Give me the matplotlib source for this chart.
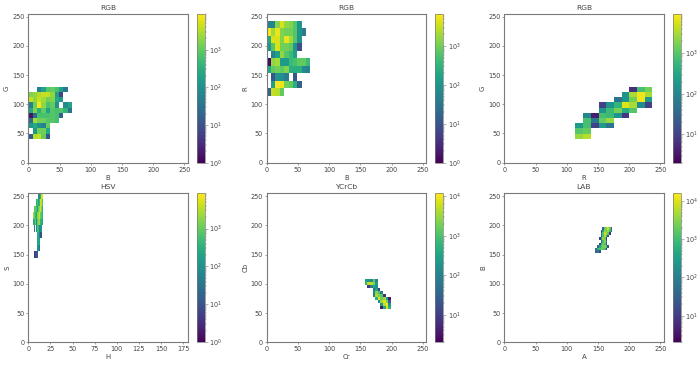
import numpy as np
import matplotlib
matplotlib.use('Agg')
import matplotlib.pyplot as plt
from matplotlib.colors import LogNorm

_ = np.nan

# log10 of the bin counts, 10x10 bins, rows from top to bottom
bg_counts = [
    [_, _, 1.7, 2.3, 2.9, 3.0, 2.8, 2.2, 1.6, _],
    [3.2, 3.3, 3.5, 3.6, 3.6, 3.3, 2.2, 0.8, _, _],
    [3.6, 3.3, 3.6, 3.4, 3.1, 3.2, 2.4, 2.1, _, _],
    [1.7, 3.1, 3.9, 3.3, 2.8, 3.0, 2.0, _, 1.9, 2.3],
    [2.4, 3.2, 2.5, 3.0, 2.3, 2.9, 2.8, 2.9, 2.6, 1.5],
    [0.2, 1.4, 2.8, 2.8, 2.8, 2.9, 2.8, 1.2, _, _],
    [1.4, 3.4, 3.1, 3.1, 2.9, 2.9, 2.8, _, _, _],
    [2.1, 2.4, 2.0, 1.7, 3.0, _, _, _, _, _],
    [_, 2.1, 3.1, 3.1, 2.4, _, _, _, _, _],
    [1.1, 3.5, 3.6, 3.0, 1.0, _, _, _, _, _],
]
br_counts = [
    [1.7, 1.7, 3.1, 3.6, 3.2, 3.1, 2.8, 2.0, _, _],
    [3.8, 3.3, 3.7, 3.1, 3.0, 3.0, 2.8, 2.0, 1.6, _],
    [2.3, 3.6, 3.6, 3.1, 3.7, 3.3, 2.8, 2.0, _, _],
    [2.0, 2.8, 3.6, 3.0, 3.0, 2.9, 2.0, 0.9, _, _],
    [_, 1.7, 2.2, 3.2, 2.8, 2.6, 2.2, _, _, _],
    [0.1, 3.2, 3.3, 2.1, 2.1, 2.6, 2.7, 2.9, 2.9, 2.6],
    [2.3, 2.9, 3.0, 2.9, 3.1, 2.4, 2.4, 2.4, 1.8, 1.7],
    [_, 1.0, 2.0, 1.9, 1.6, _, 1.0, _, _, _],
    [_, 2.2, 3.8, 3.7, 3.0, 2.9, 2.4, 1.2, _, _],
    [1.2, 3.5, 3.4, 2.9, _, _, _, _, _, _],
]
rg_counts = [
    [_, _, _, _, _, _, _, 0.8, 2.9, 3.2],
    [_, _, _, _, _, _, 2.2, 3.5, 3.9, 3.5],
    [_, _, _, _, _, 1.7, 2.2, 3.2, 3.9, 2.3],
    [_, _, _, 1.0, 2.2, 2.7, 3.8, 3.5, 2.1, 1.0],
    [_, _, _, 2.2, 2.8, 3.2, 2.6, 3.0, _, _],
    [_, 2.0, 0.6, 2.9, 2.8, 2.2, 0.9, _, _, _],
    [_, 2.9, 1.8, 3.1, 3.4, _, _, _, _, _],
    [2.3, 2.9, 1.0, 2.3, 1.7, _, _, _, _, _],
    [3.0, 3.1, _, _, _, _, _, _, _, _],
    [3.4, 3.6, _, _, _, _, _, _, _, _],
]
hs_counts = [
    [_, _, _, _, _, 1.7, 2.0, 2.4, 3.7, 3.7],
    [_, _, _, 2.5, 2.8, 2.3, 2.6, 3.6, 3.6, 2.9],
    [_, 2.9, 3.0, 2.7, 2.3, 3.0, 3.3, 3.7, 3.1, 2.6],
    [3.3, 3.0, 2.6, 2.4, 3.2, 3.3, 3.6, 3.0, 2.8, 2.6],
    [2.2, 2.5, 3.0, 1.8, 3.0, 3.2, 3.3, 2.6, 2.4, 2.4],
    [_, 1.7, _, 2.0, 2.8, 2.6, 1.8, 2.0, 2.0, _],
    [_, _, _, _, 2.4, 2.5, 1.6, 0.9, 1.0, _],
    [_, _, _, _, 2.3, 2.4, 2.2, _, _, _],
    [_, _, _, _, 2.1, 2.0, 1.4, _, _, _],
    [_, 0.6, 0.8, 1.1, 1.0, _, _, _, _, _],
]
crcb_counts = [
    [2.4, 2.3, 2.0, 3.2, 2.0, _, _, _, _, _],
    [2.8, 3.7, 3.7, 3.3, 2.4, _, _, _, _, _],
    [_, 0.9, 1.9, 2.6, 2.2, _, _, _, _, _],
    [_, _, _, 1.8, 2.5, 1.1, _, _, _, _],
    [_, _, _, 2.0, 3.4, 3.0, 1.8, _, _, _],
    [_, _, _, 1.9, 3.6, 3.3, 3.1, 0.8, _, _],
    [_, _, _, _, 2.7, 3.9, 3.2, 3.5, 2.4, 0.5],
    [_, _, _, _, _, 2.2, 3.5, 3.9, 3.3, 1.4],
    [_, _, _, _, _, _, 2.3, 3.7, 4.0, 2.2],
    [_, _, _, _, _, _, 0.6, 2.6, 3.9, 2.7],
]
ab_counts = [
    [_, _, _, _, 1.5, 3.3, 3.5, 3.9, 3.2, 1.5],
    [_, _, _, 1.0, 2.6, 3.6, 3.3, 3.7, 2.9, 1.8],
    [_, _, _, 1.5, 3.2, 3.8, 3.7, 3.2, 0.9, _],
    [_, _, _, 1.8, 3.0, 3.8, 3.0, 1.2, _, _],
    [_, _, 1.0, 2.3, 3.6, 3.3, 1.0, _, _, _],
    [_, _, _, 1.6, 3.0, 3.5, 1.5, _, _, _],
    [_, _, 1.0, 2.8, 3.3, 3.0, 1.5, _, _, _],
    [_, 1.6, 2.6, 3.2, 3.3, 3.4, 3.0, 1.3, _, _],
    [1.8, 2.9, 3.1, 3.3, 3.3, 3.0, 0.9, _, _, _],
    [1.6, 1.8, 1.2, _, _, _, _, _, _, _],
]

titles = ['RGB', 'RGB', 'RGB', 'HSV', 'YCrCb', 'LAB']
xlabels = ['B', 'B', 'R', 'H', 'Cr', 'A']
ylabels = ['G', 'R', 'G', 'S', 'Cb', 'B']
all_counts = [bg_counts, br_counts, rg_counts, hs_counts, crcb_counts, ab_counts]
x_ranges = [(0, 70), (0, 70), (114, 237), (5.7, 16.2), (157, 199), (146, 173)]
y_ranges = [(41, 130), (115, 243), (41, 130), (145, 256), (57, 108), (153, 197)]
count_limits = [(1, 9000), (1, 6800), (2, 9500), (1, 8500), (2, 12000), (2, 16000)]

W, H = 700, 365
left_px = [28.3, 266.7, 504.3]
top_px = [13.7, 193.3]
ax_w, ax_h = 159.2, 149.0
cb_gap, cb_w = 9.2, 8.0
text_color = '#444444'
edge_color = '#7a7a7a'

plt.rcParams['font.size'] = 4.7
plt.rcParams['text.color'] = text_color
plt.rcParams['axes.labelcolor'] = text_color
plt.rcParams['xtick.labelcolor'] = text_color
plt.rcParams['ytick.labelcolor'] = text_color
plt.rcParams['xtick.color'] = edge_color
plt.rcParams['ytick.color'] = edge_color

fig = plt.figure(figsize=(W / 100, H / 100), dpi=100)

for i in range(6):
    left = left_px[i % 3]
    top = top_px[i // 3]
    ax = fig.add_axes([left / W, 1 - (top + ax_h) / H, ax_w / W, ax_h / H])
    counts = 10 ** np.array(all_counts[i])[::-1]
    xedges = np.linspace(*x_ranges[i], 11)
    yedges = np.linspace(*y_ranges[i], 11)
    mesh = ax.pcolormesh(xedges, yedges, np.ma.masked_invalid(counts), cmap='viridis',
                         norm=LogNorm(*count_limits[i]))
    if titles[i] == 'HSV':
        ax.set_xlim(0, 180)
        ax.set_xticks(range(0, 176, 25))
    else:
        ax.set_xlim(0, 255)
        ax.set_xticks(range(0, 251, 50))
    ax.set_ylim(0, 255)
    ax.set_yticks(range(0, 251, 50))
    ax.set_title(titles[i], fontsize=5.4, pad=3)
    ax.set_xlabel(xlabels[i], fontsize=5, labelpad=1.5)
    ax.set_ylabel(ylabels[i], fontsize=5, labelpad=1.5)
    ax.tick_params(length=1.6, width=0.5, pad=1.2)
    for s in ax.spines.values():
        s.set_color(edge_color)
        s.set_linewidth(0.8)

    cax = fig.add_axes([(left + ax_w + cb_gap) / W, 1 - (top + ax_h) / H, cb_w / W, ax_h / H])
    cb = fig.colorbar(mesh, cax=cax)
    cb.ax.tick_params(which='major', length=2, width=0.4, pad=1.2)
    cb.ax.tick_params(which='minor', length=1.2, width=0.3)
    cb.outline.set_edgecolor(edge_color)
    cb.outline.set_linewidth(0.5)

fig.savefig('out.png', dpi=100)
